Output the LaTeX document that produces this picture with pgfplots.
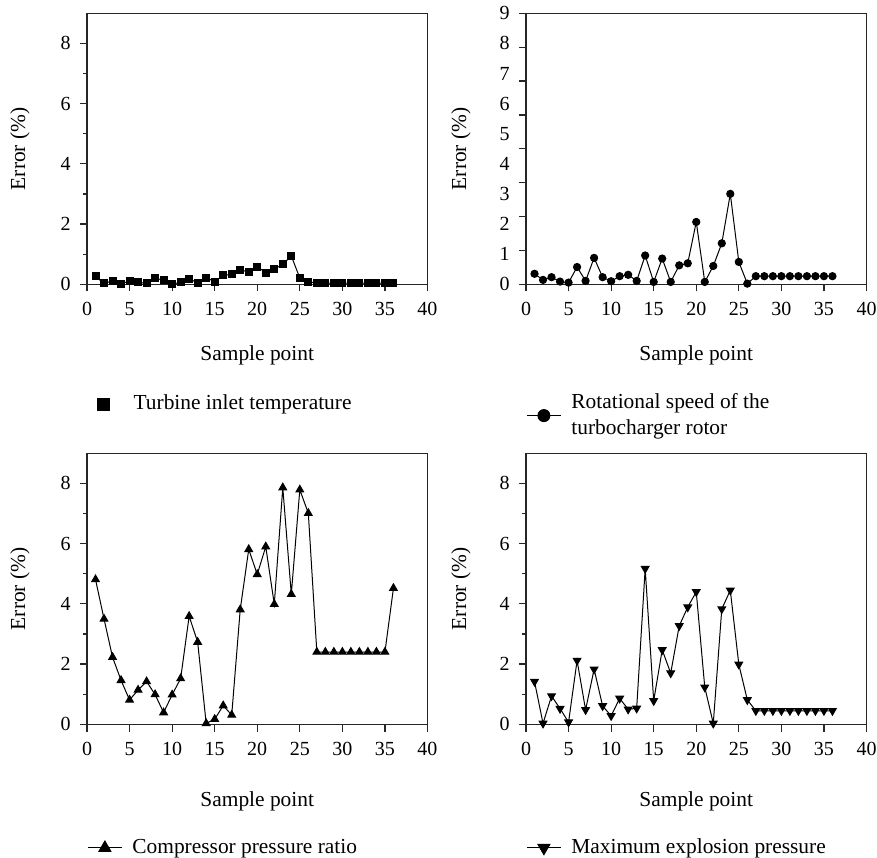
\documentclass[border=0pt]{standalone}
\usepackage{fontspec}
\setmainfont{Liberation Serif}
\usepackage{pgfplots}
\pgfplotsset{compat=1.18}
\pgfplotsset{
  panel/.style={
    scale only axis, width=170.25pt, height=135.5pt,
    xmin=0, xmax=40, ymin=0,
    xtick={0,5,...,40},
    tick pos=left, tick align=outside,
    major tick length=3.6pt, minor tick length=2pt,
    axis line style={line width=0.6pt, black!85},
    every tick/.style={line width=0.6pt, black!85},
    /pgf/number format/assume math mode=true,
    tick label style={font=\fontsize{10}{12}\selectfont},
    xticklabel style={yshift=-2pt},
    yticklabel style={xshift=-1pt},
    label style={font=\fontsize{10.7}{12.8}\selectfont},
    xlabel={Sample point},
    ylabel={Error (\%)},
    xlabel style={at={(axis description cs:0.5,-0.262)},anchor=center},
    legend style={draw=none, fill=none, font=\fontsize{10.7}{13}\selectfont,
      anchor=west, inner sep=0pt, nodes={align=left},
      /tikz/every odd column/.append style={column sep=3pt}},
    legend cell align=left,
  },
  dl/.style={line width=0.5pt, black},
}
\begin{document}
\begin{tikzpicture}
\useasboundingbox (0,0) rectangle (438.5pt,428.5pt);
% Top left
\begin{axis}[panel, at={(43.5pt,286.35pt)}, anchor=south west,
  ymax=9, ytick={0,2,4,6,8}, minor y tick num=1,
  ylabel style={at={(axis description cs:-0.197,0.5)},anchor=center},
  legend style={at={(axis description cs:0,-0.442)}},
  legend image code/.code={\draw[white,line width=0.1pt] (0pt,0pt) -- (18pt,0pt); \draw[#1,mark size=3pt] plot[only marks] coordinates {(8pt,0pt)};}]
\addplot[dl, mark=square*, mark size=1.75pt] coordinates {
(1,0.26)(2,0.03)(3,0.11)(4,0.02)(5,0.11)(6,0.06)(7,0.03)(8,0.21)(9,0.13)(10,0.01)
(11,0.06)(12,0.19)(13,0.04)(14,0.22)(15,0.09)(16,0.30)(17,0.33)(18,0.48)(19,0.41)(20,0.59)
(21,0.38)(22,0.50)(23,0.67)(24,0.94)(25,0.21)(26,0.08)(27,0.04)(28,0.04)(29,0.04)(30,0.04)
(31,0.04)(32,0.04)(33,0.04)(34,0.04)(35,0.04)(36,0.04)};
\addlegendentry{Turbine inlet temperature}
\end{axis}
% Top right
\begin{axis}[panel, at={(263pt,286.35pt)}, anchor=south west,
  ymax=8, ytick={0,...,8}, yticklabels={},
  extra y ticks={0,0.8889,1.7778,2.6667,3.5556,4.4444,5.3333,6.2222,7.1111,8},
  extra y tick labels={0,1,2,3,4,5,6,7,8,9},
  extra y tick style={major tick length=0pt, yticklabel style={xshift=-3.6pt}},
  ylabel style={at={(axis description cs:-0.191,0.5)},anchor=center},
  legend style={at={(axis description cs:0,-0.4845)}},
  legend image code/.code={\draw[#1] (0pt,0pt) -- (17pt,0pt); \draw[#1,mark size=3pt] plot[only marks] coordinates {(8.5pt,0pt)};}]
\addplot[dl, mark=*, mark size=1.8pt] coordinates {
(1,0.31)(2,0.13)(3,0.21)(4,0.08)(5,0.05)(6,0.51)(7,0.10)(8,0.78)(9,0.21)(10,0.09)
(11,0.24)(12,0.28)(13,0.10)(14,0.85)(15,0.07)(16,0.76)(17,0.07)(18,0.56)(19,0.62)(20,1.84)
(21,0.07)(22,0.54)(23,1.21)(24,2.67)(25,0.66)(26,0.02)(27,0.24)(28,0.24)(29,0.24)(30,0.24)
(31,0.24)(32,0.24)(33,0.24)(34,0.24)(35,0.24)(36,0.24)};
\addlegendentry{Rotational speed of the\\turbocharger rotor}
\end{axis}
% Bottom left
\begin{axis}[panel, at={(43.5pt,66.35pt)}, anchor=south west,
  ymax=9, ytick={0,2,4,6,8}, minor y tick num=1,
  ylabel style={at={(axis description cs:-0.197,0.5)},anchor=center},
  xlabel style={at={(axis description cs:0.5,-0.283)}},
  legend style={at={(axis description cs:0,-0.456)}},
  legend image code/.code={\draw[#1] (0pt,0pt) -- (17pt,0pt); \draw[#1,mark size=3.4pt] plot[only marks] coordinates {(8.5pt,0pt)};}]
\addplot[dl, mark=triangle*, mark size=2.2pt] coordinates {
(1,4.81)(2,3.50)(3,2.23)(4,1.46)(5,0.81)(6,1.14)(7,1.42)(8,0.99)(9,0.39)(10,0.98)
(11,1.52)(12,3.59)(13,2.73)(14,0.03)(15,0.17)(16,0.62)(17,0.31)(18,3.81)(19,5.81)(20,4.98)
(21,5.90)(22,3.99)(23,7.86)(24,4.32)(25,7.79)(26,7.01)(27,2.40)(28,2.40)(29,2.40)(30,2.40)
(31,2.40)(32,2.40)(33,2.40)(34,2.40)(35,2.40)(36,4.52)};
\addlegendentry{Compressor pressure ratio}
\end{axis}
% Bottom right
\begin{axis}[panel, at={(263pt,66.35pt)}, anchor=south west,
  ymax=9, ytick={0,2,4,6,8}, minor y tick num=1,
  ylabel style={at={(axis description cs:-0.191,0.5)},anchor=center},
  xlabel style={at={(axis description cs:0.5,-0.283)}},
  legend style={at={(axis description cs:0,-0.456)}},
  legend image code/.code={\draw[#1] (0pt,0pt) -- (17pt,0pt); \draw[#1,mark size=3.4pt] plot[only marks] coordinates {(8.5pt,0pt)};}]
\addplot[dl, mark=triangle*, mark size=2.2pt, mark options={rotate=180}] coordinates {
(1,1.42)(2,0.03)(3,0.94)(4,0.52)(5,0.07)(6,2.12)(7,0.48)(8,1.83)(9,0.61)(10,0.28)
(11,0.86)(12,0.50)(13,0.53)(14,5.17)(15,0.78)(16,2.47)(17,1.70)(18,3.27)(19,3.89)(20,4.40)
(21,1.23)(22,0.03)(23,3.83)(24,4.45)(25,1.99)(26,0.81)(27,0.45)(28,0.45)(29,0.45)(30,0.45)
(31,0.45)(32,0.45)(33,0.45)(34,0.45)(35,0.45)(36,0.45)};
\addlegendentry{Maximum explosion pressure}
\end{axis}
\end{tikzpicture}
\end{document}
